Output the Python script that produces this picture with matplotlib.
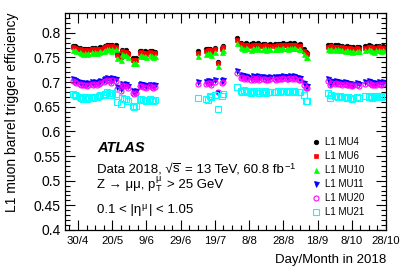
import matplotlib
matplotlib.use("Agg")
import matplotlib.pyplot as plt
from matplotlib.ticker import MultipleLocator, FuncFormatter

plt.rcParams['font.family'] = ['Liberation Sans', 'DejaVu Sans']
plt.rcParams['mathtext.fontset'] = 'custom'
plt.rcParams['mathtext.rm'] = 'Liberation Sans'
plt.rcParams['mathtext.it'] = 'Liberation Sans:italic'
plt.rcParams['mathtext.bf'] = 'Liberation Sans:bold'
plt.rcParams['mathtext.fallback'] = 'cm'

# ---------------- data (day of year 2018) ----------------
days = [117, 118, 119, 121, 122, 123, 124, 125, 126, 128, 129, 130, 131, 132, 133, 135, 136, 137, 138, 139,
        140, 142, 143, 145, 146, 147, 148, 149, 152, 153, 154, 156, 157, 158, 159, 160, 162, 163, 164, 165,
        190, 195, 196, 197, 198, 200, 202, 204, 205,
        213, 215, 216, 217, 218, 219, 221, 222, 223, 224, 225, 226, 228, 229, 230, 231, 232, 235, 236, 237,
        238, 239, 240, 242, 243, 244, 245, 246, 247, 249, 250, 252, 253, 254,
        266, 267, 268, 270, 271, 272, 273, 274, 276, 277, 278, 279, 280, 281, 283, 284,
        288, 290, 291, 292, 293, 294, 296, 297, 298]

mu4 = [0.774, 0.773, 0.771, 0.770, 0.768, 0.766, 0.768, 0.765, 0.767, 0.770, 0.767, 0.769, 0.768, 0.770, 0.771, 0.772, 0.774, 0.776, 0.775, 0.771,
       0.776, 0.775, 0.758, 0.754, 0.765, 0.763, 0.764, 0.759, 0.748, 0.747, 0.748, 0.762, 0.763, 0.761, 0.762, 0.760, 0.763, 0.762, 0.760, 0.761,
       0.762, 0.766, 0.768, 0.767, 0.763, 0.770, 0.741, 0.770, 0.774,
       0.789, 0.780, 0.778, 0.776, 0.779, 0.778, 0.777, 0.779, 0.776, 0.778, 0.779, 0.776, 0.777, 0.778, 0.774, 0.776, 0.777, 0.777, 0.776, 0.778,
       0.777, 0.778, 0.779, 0.778, 0.777, 0.779, 0.778, 0.779, 0.778, 0.776, 0.777, 0.766, 0.760, 0.759,
       0.775, 0.774, 0.776, 0.775, 0.774, 0.775, 0.773, 0.774, 0.772, 0.773, 0.771, 0.772, 0.770, 0.771, 0.772, 0.771,
       0.773, 0.775, 0.774, 0.772, 0.770, 0.773, 0.774, 0.772, 0.773]

mu6 = [0.771, 0.770, 0.768, 0.767, 0.765, 0.763, 0.765, 0.762, 0.764, 0.767, 0.764, 0.766, 0.765, 0.767, 0.768, 0.769, 0.771, 0.773, 0.772, 0.768,
       0.773, 0.772, 0.755, 0.751, 0.762, 0.760, 0.761, 0.756, 0.745, 0.744, 0.745, 0.759, 0.760, 0.758, 0.759, 0.757, 0.760, 0.759, 0.757, 0.758,
       0.759, 0.763, 0.765, 0.764, 0.760, 0.767, 0.738, 0.767, 0.771,
       0.786, 0.777, 0.775, 0.773, 0.776, 0.775, 0.774, 0.776, 0.773, 0.775, 0.776, 0.773, 0.774, 0.775, 0.771, 0.773, 0.774, 0.774, 0.773, 0.775,
       0.774, 0.775, 0.776, 0.775, 0.774, 0.776, 0.775, 0.776, 0.775, 0.773, 0.774, 0.763, 0.757, 0.756,
       0.772, 0.771, 0.773, 0.772, 0.771, 0.772, 0.770, 0.771, 0.769, 0.770, 0.768, 0.769, 0.767, 0.768, 0.769, 0.768,
       0.770, 0.772, 0.771, 0.769, 0.767, 0.770, 0.771, 0.769, 0.770]

mu10 = [0.765, 0.764, 0.762, 0.761, 0.759, 0.757, 0.759, 0.756, 0.758, 0.761, 0.758, 0.760, 0.759, 0.761, 0.762, 0.763, 0.765, 0.767, 0.766, 0.762,
        0.767, 0.766, 0.749, 0.745, 0.756, 0.754, 0.755, 0.750, 0.739, 0.738, 0.739, 0.753, 0.754, 0.752, 0.753, 0.751, 0.754, 0.753, 0.751, 0.752,
        0.753, 0.757, 0.759, 0.758, 0.754, 0.761, 0.732, 0.761, 0.765,
        0.780, 0.771, 0.769, 0.767, 0.770, 0.769, 0.765, 0.770, 0.767, 0.769, 0.770, 0.767, 0.768, 0.769, 0.765, 0.767, 0.768, 0.768, 0.767, 0.769,
        0.768, 0.769, 0.770, 0.769, 0.768, 0.770, 0.769, 0.770, 0.769, 0.767, 0.768, 0.757, 0.751, 0.750,
        0.766, 0.765, 0.767, 0.766, 0.765, 0.766, 0.764, 0.765, 0.763, 0.764, 0.762, 0.763, 0.761, 0.762, 0.763, 0.762,
        0.764, 0.766, 0.765, 0.763, 0.761, 0.764, 0.765, 0.763, 0.764]

mu11 = [0.707, 0.705, 0.703, 0.701, 0.699, 0.697, 0.699, 0.696, 0.698, 0.700, 0.698, 0.700, 0.699, 0.701, 0.703, 0.704, 0.706, 0.709, 0.707, 0.703,
        0.708, 0.706, 0.689, 0.686, 0.697, 0.695, 0.696, 0.692, 0.681, 0.679, 0.681, 0.695, 0.696, 0.693, 0.694, 0.692, 0.695, 0.694, 0.692, 0.693,
        0.700, 0.701, 0.703, 0.702, 0.698, 0.704, 0.677, 0.703, 0.704,
        0.722, 0.712, 0.714, 0.711, 0.713, 0.710, 0.709, 0.712, 0.708, 0.711, 0.712, 0.709, 0.710, 0.711, 0.708, 0.709, 0.710, 0.710, 0.709, 0.711,
        0.710, 0.711, 0.712, 0.711, 0.710, 0.712, 0.711, 0.712, 0.710, 0.708, 0.709, 0.698, 0.692, 0.691,
        0.707, 0.697, 0.703, 0.701, 0.702, 0.700, 0.701, 0.699, 0.700, 0.698, 0.699, 0.697, 0.695, 0.697, 0.698, 0.696,
        0.701, 0.702, 0.700, 0.698, 0.697, 0.699, 0.701, 0.699, 0.700]

mu20 = [0.703, 0.701, 0.699, 0.697, 0.695, 0.693, 0.695, 0.692, 0.694, 0.696, 0.694, 0.696, 0.695, 0.697, 0.699, 0.700, 0.702, 0.705, 0.703, 0.699,
        0.704, 0.702, 0.685, 0.682, 0.693, 0.691, 0.692, 0.688, 0.677, 0.675, 0.677, 0.691, 0.692, 0.689, 0.690, 0.688, 0.691, 0.690, 0.688, 0.689,
        0.696, 0.697, 0.699, 0.698, 0.694, 0.700, 0.680, 0.699, 0.700,
        0.718, 0.708, 0.710, 0.707, 0.709, 0.706, 0.705, 0.708, 0.704, 0.707, 0.708, 0.705, 0.706, 0.707, 0.704, 0.705, 0.706, 0.706, 0.705, 0.707,
        0.706, 0.707, 0.708, 0.707, 0.706, 0.708, 0.707, 0.708, 0.706, 0.704, 0.705, 0.694, 0.688, 0.687,
        0.703, 0.693, 0.699, 0.697, 0.698, 0.696, 0.697, 0.695, 0.696, 0.694, 0.695, 0.693, 0.691, 0.693, 0.694, 0.692,
        0.697, 0.698, 0.696, 0.694, 0.693, 0.695, 0.697, 0.695, 0.696]

mu21 = [0.676, 0.673, 0.671, 0.669, 0.668, 0.666, 0.669, 0.665, 0.667, 0.670, 0.668, 0.670, 0.669, 0.671, 0.673, 0.674, 0.676, 0.679, 0.677, 0.673,
        0.677, 0.675, 0.659, 0.656, 0.667, 0.665, 0.666, 0.662, 0.651, 0.649, 0.651, 0.665, 0.666, 0.663, 0.664, 0.662, 0.665, 0.664, 0.662, 0.663,
        0.668, 0.666, 0.663, 0.672, 0.670, 0.674, 0.646, 0.672, 0.675,
        0.690, 0.682, 0.680, 0.684, 0.681, 0.680, 0.678, 0.682, 0.679, 0.681, 0.682, 0.678, 0.680, 0.681, 0.677, 0.679, 0.680, 0.680, 0.679, 0.681,
        0.680, 0.681, 0.682, 0.681, 0.680, 0.682, 0.681, 0.682, 0.680, 0.679, 0.680, 0.673, 0.662, 0.662,
        0.678, 0.667, 0.673, 0.671, 0.672, 0.670, 0.671, 0.669, 0.670, 0.668, 0.669, 0.667, 0.665, 0.668, 0.669, 0.667,
        0.672, 0.669, 0.671, 0.668, 0.669, 0.671, 0.672, 0.670, 0.671]

labels = ["L1 MU4", "L1 MU6", "L1 MU10", "L1 MU11", "L1 MU20", "L1 MU21"]
tick_days = [120, 140, 160, 180, 200, 220, 240, 260, 280, 300]
tick_labels = ["30/4", "20/5", "9/6", "29/6", "19/7", "8/8", "28/8", "18/9", "8/10", "28/10"]

# ---------------- figure ----------------
W, H = 407, 275
fig = plt.figure(figsize=(W / 100, H / 100), dpi=100)
ax = fig.add_axes([65 / W, 45 / H, 321 / W, 217 / H])

styles = [
    dict(marker='o', ms=3.3, mfc='black', mec='black', mew=0.5),
    dict(marker='s', ms=3.0, mfc='#ff0000', mec='#ff0000', mew=0.5),
    dict(marker='^', ms=3.6, mfc='#00ff00', mec='#00ff00', mew=0.5),
    dict(marker='v', ms=3.6, mfc='#0000ff', mec='#0000ff', mew=0.5),
    dict(marker='o', ms=3.6, mfc='none', mec='#ff00ff', mew=0.8),
    dict(marker='s', ms=4.3, mfc='none', mec='#00ffff', mew=0.8),
]
for vals, lab, st in zip([mu4, mu6, mu10, mu11, mu20, mu21], labels, styles):
    ax.plot(days, vals, linestyle='none', label=lab, **st)

ax.set_xlim(112.4, 300)
ax.set_ylim(0.4, 0.84)
ax.set_xticks(tick_days)
ax.set_xticklabels(tick_labels)
ax.xaxis.set_minor_locator(MultipleLocator(5))
ax.yaxis.set_major_locator(MultipleLocator(0.05))
ax.yaxis.set_minor_locator(MultipleLocator(0.01))
ax.yaxis.set_major_formatter(FuncFormatter(lambda v, p: f"{v:g}"))
ax.tick_params(which='both', direction='in', top=True, right=True, width=0.8)
ax.tick_params(axis='y', labelsize=10)
ax.tick_params(axis='x', labelsize=8.2)
ax.tick_params(which='major', length=7, pad=3)
ax.tick_params(which='minor', length=3.5)
ax.tick_params(axis='x', which='major', pad=4)
for s in ax.spines.values():
    s.set_linewidth(0.9)

fig.text(12 / W, 1 - 13 / H, "L1 muon barrel trigger efficiency", rotation=90,
         ha='center', va='top', fontsize=10)
fig.text(386 / W, 1 - 260 / H, "Day/Month in 2018", ha='right', va='center', fontsize=9.5)

fig.text(97 / W, 1 - 152 / H, "ATLAS", fontsize=10.5, fontweight='bold', style='italic', va='baseline')

renderer = fig.canvas.get_renderer()
SP = 3.6  # a space at 9.5 pt, in pixels


def seq_text(x_px, y_px, pieces, fs=9.5):
    x = x_px
    for s, gap in pieces:
        x += gap
        t = fig.text(x / W, 1 - y_px / H, s, fontsize=fs, va='baseline', ha='left')
        x = t.get_window_extent(renderer).x1


seq_text(97, 173, [("Data 2018, √", 0), (r"$\overline{\mathrm{s}}$", -0.3),
                   ("= 13 TeV, 60.8 fb", SP), (r"$^{-1}$", 0.3)])
seq_text(97, 188, [("Z → μμ, p", 0), (r"$_{\mathrm{T}}^{\mathrm{μ}}$", 0.2), ("> 25 GeV", SP)])
seq_text(97, 213, [("0.1 < |η", 0), (r"$^{\mathrm{μ}}$", 0.2), ("| < 1.05", 0.6)])

ax.legend(loc='upper left', bbox_to_anchor=(311 / W, 1 - 137 / H), bbox_transform=fig.transFigure,
          frameon=False, fontsize=7, handlelength=1.0, handletextpad=0.45, labelspacing=0.42,
          borderpad=0, borderaxespad=0, numpoints=1)

fig.savefig("out.png", dpi=100)
